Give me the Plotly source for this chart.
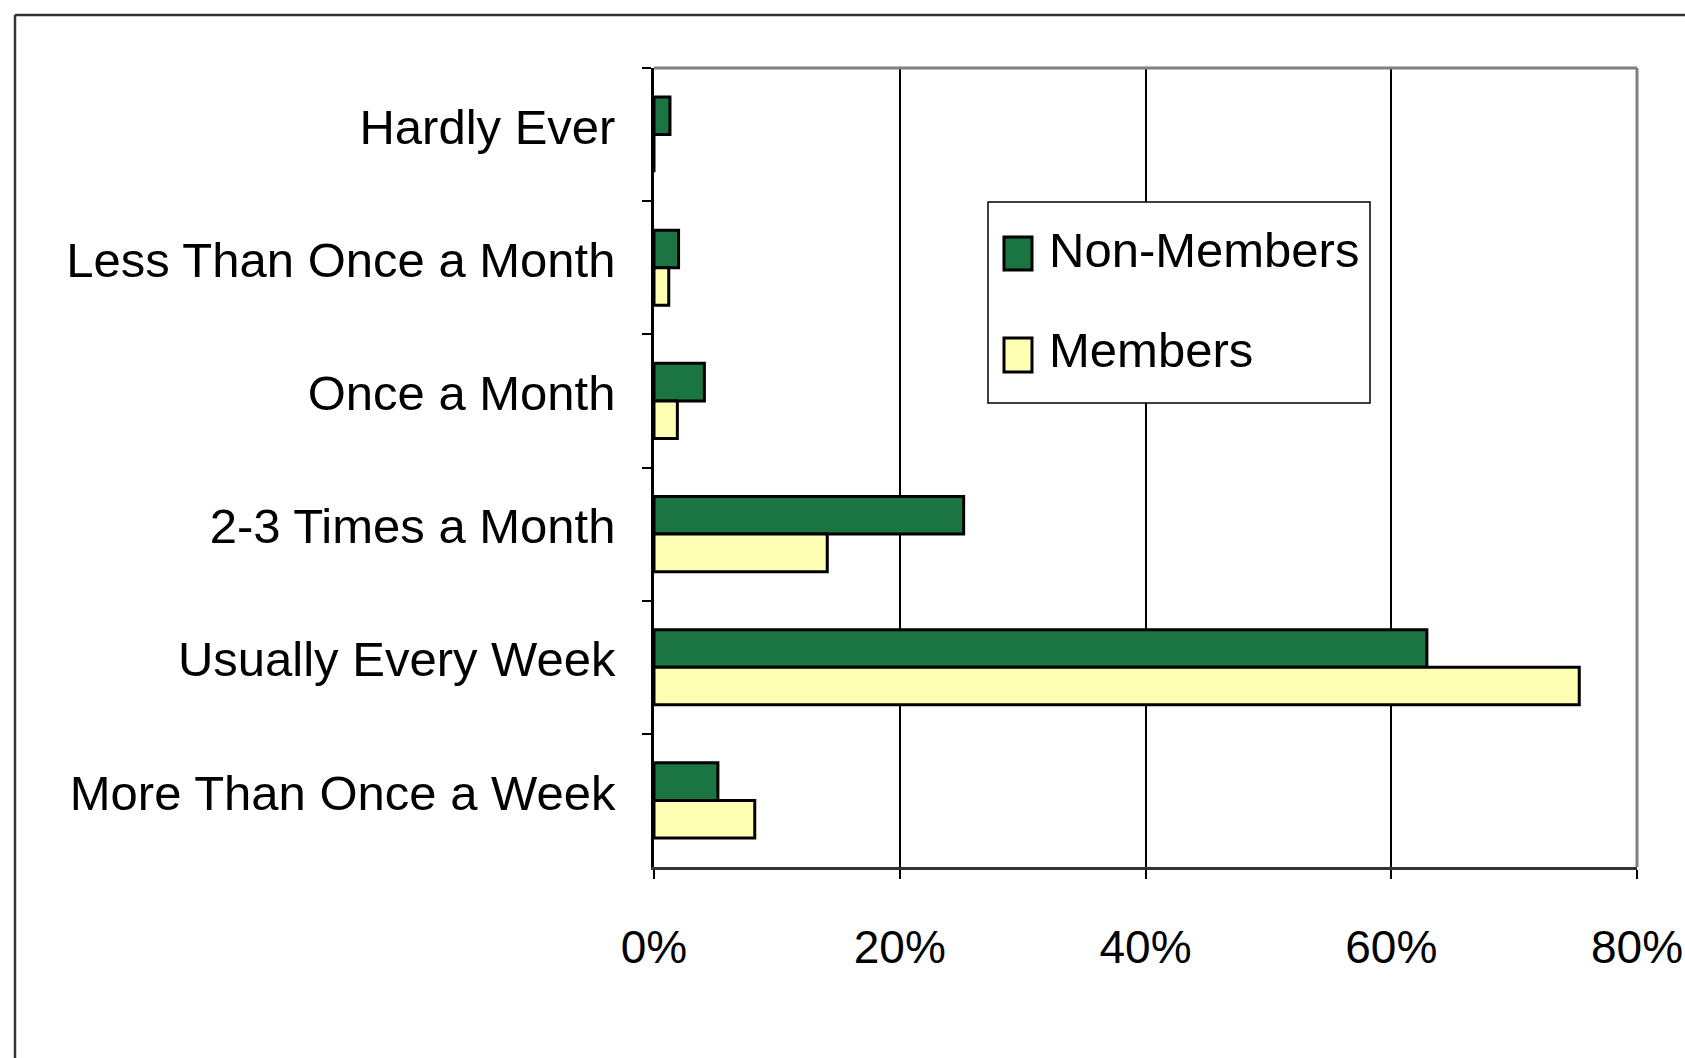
import plotly.graph_objects as go

categories = ["Hardly Ever", "Less Than Once a Month", "Once a Month",
              "2-3 Times a Month", "Usually Every Week", "More Than Once a Week"]
non_members = [1.3, 2.0, 4.1, 25.2, 62.9, 5.2]
members = [0.0, 1.2, 1.9, 14.1, 75.3, 8.2]
series_names = ["Non-Members", "Members"]
series_colors = ["#1a7542", "#ffffb4"]
x_ticks = [0, 20, 40, 60, 80]
x_tick_labels = ["0%", "20%", "40%", "60%", "80%"]

OFF = 0  # body margin removed via post_script
W, H = 1685, 1058
# target page coordinates of plot area
P_L, P_R, P_T, P_B = 654, 1637, 68, 867
ML, MT = P_L - OFF, P_T - OFF
MR, MB = W - (P_R - OFF), H - (P_B - OFF)
PW, PH = W - ML - MR, H - MT - MB

FONT = "Liberation Sans, Arial, sans-serif"
FS = 49

fig = go.Figure()
for name, vals, col in zip(series_names, [non_members, members], series_colors):
    fig.add_trace(go.Bar(
        y=categories, x=vals, orientation="h", name=name,
        marker=dict(color=col, line=dict(color="black", width=3)),
        showlegend=False))

def px_x(p):  # page pixel -> paper x
    return (p - OFF - ML) / PW

def px_y(p):  # page pixel -> paper y
    return 1 - (p - OFF - MT) / PH

def line(x0, y0, x1, y1, color, width):
    return dict(type="line", xref="paper", yref="paper",
                x0=x0, x1=x1, y0=y0, y1=y1, line=dict(color=color, width=width))

shapes = [
    line(0, 1, 1, 1, "#7f7f7f", 3),
    line(1, 0, 1, 1, "#7f7f7f", 3),
    line(px_x(15), px_y(15), px_x(1700), px_y(15), "#333333", 2.5),
    line(px_x(15), px_y(15), px_x(15), px_y(1080), "#333333", 2.5),
    # legend box
    dict(type="rect", xref="paper", yref="paper",
         x0=px_x(988), x1=px_x(1370), y0=px_y(202), y1=px_y(403),
         line=dict(color="black", width=1.5), fillcolor="white", layer="above"),
]
annotations = []
legend_rows = [(237, 270, 250), (338, 372, 350)]
for (y0, y1, yc), name, col in zip(legend_rows, series_names, series_colors):
    shapes.append(dict(type="rect", xref="paper", yref="paper",
                       x0=px_x(1004), x1=px_x(1032), y0=px_y(y0), y1=px_y(y1),
                       line=dict(color="black", width=3), fillcolor=col,
                       layer="above"))
    annotations.append(dict(xref="paper", yref="paper", x=px_x(1047), y=px_y(yc),
                            xanchor="left", yanchor="middle", showarrow=False,
                            text=name, font=dict(family=FONT, size=FS, color="black")))

fig.update_layout(
    width=W, height=H, autosize=False,
    margin=dict(l=ML, r=MR, t=MT, b=MB, pad=0),
    paper_bgcolor="white", plot_bgcolor="white",
    font=dict(family=FONT, size=FS, color="black"),
    barmode="group", bargap=0.435, bargroupgap=0,
    showlegend=False,
    shapes=shapes, annotations=annotations,
)
fig.update_xaxes(range=[0, 80], tickvals=x_ticks, ticktext=x_tick_labels,
                 tickfont=dict(size=46),
                 showgrid=True, gridcolor="black", gridwidth=1.5,
                 ticks="outside", ticklen=9, tickwidth=2, tickcolor="black",
                 showline=True, linecolor="#333333", linewidth=3,
                 zeroline=False, ticklabelstandoff=29, automargin=False,
                 ticklabeloverflow="allow")
fig.update_yaxes(categoryorder="array", categoryarray=categories,
                 autorange="reversed", ticks="outside", tickson="boundaries",
                 ticklen=9, tickwidth=2, tickcolor="black",
                 showline=True, linecolor="black", linewidth=2.5,
                 showgrid=False, zeroline=False, ticklabelstandoff=26,
                 ticklabelshift=8, automargin=False)

fig.write_html("out.html",
               config={"displayModeBar": False},
               post_script="document.body.style.margin='0px';"
                           "document.body.style.overflow='hidden';")
